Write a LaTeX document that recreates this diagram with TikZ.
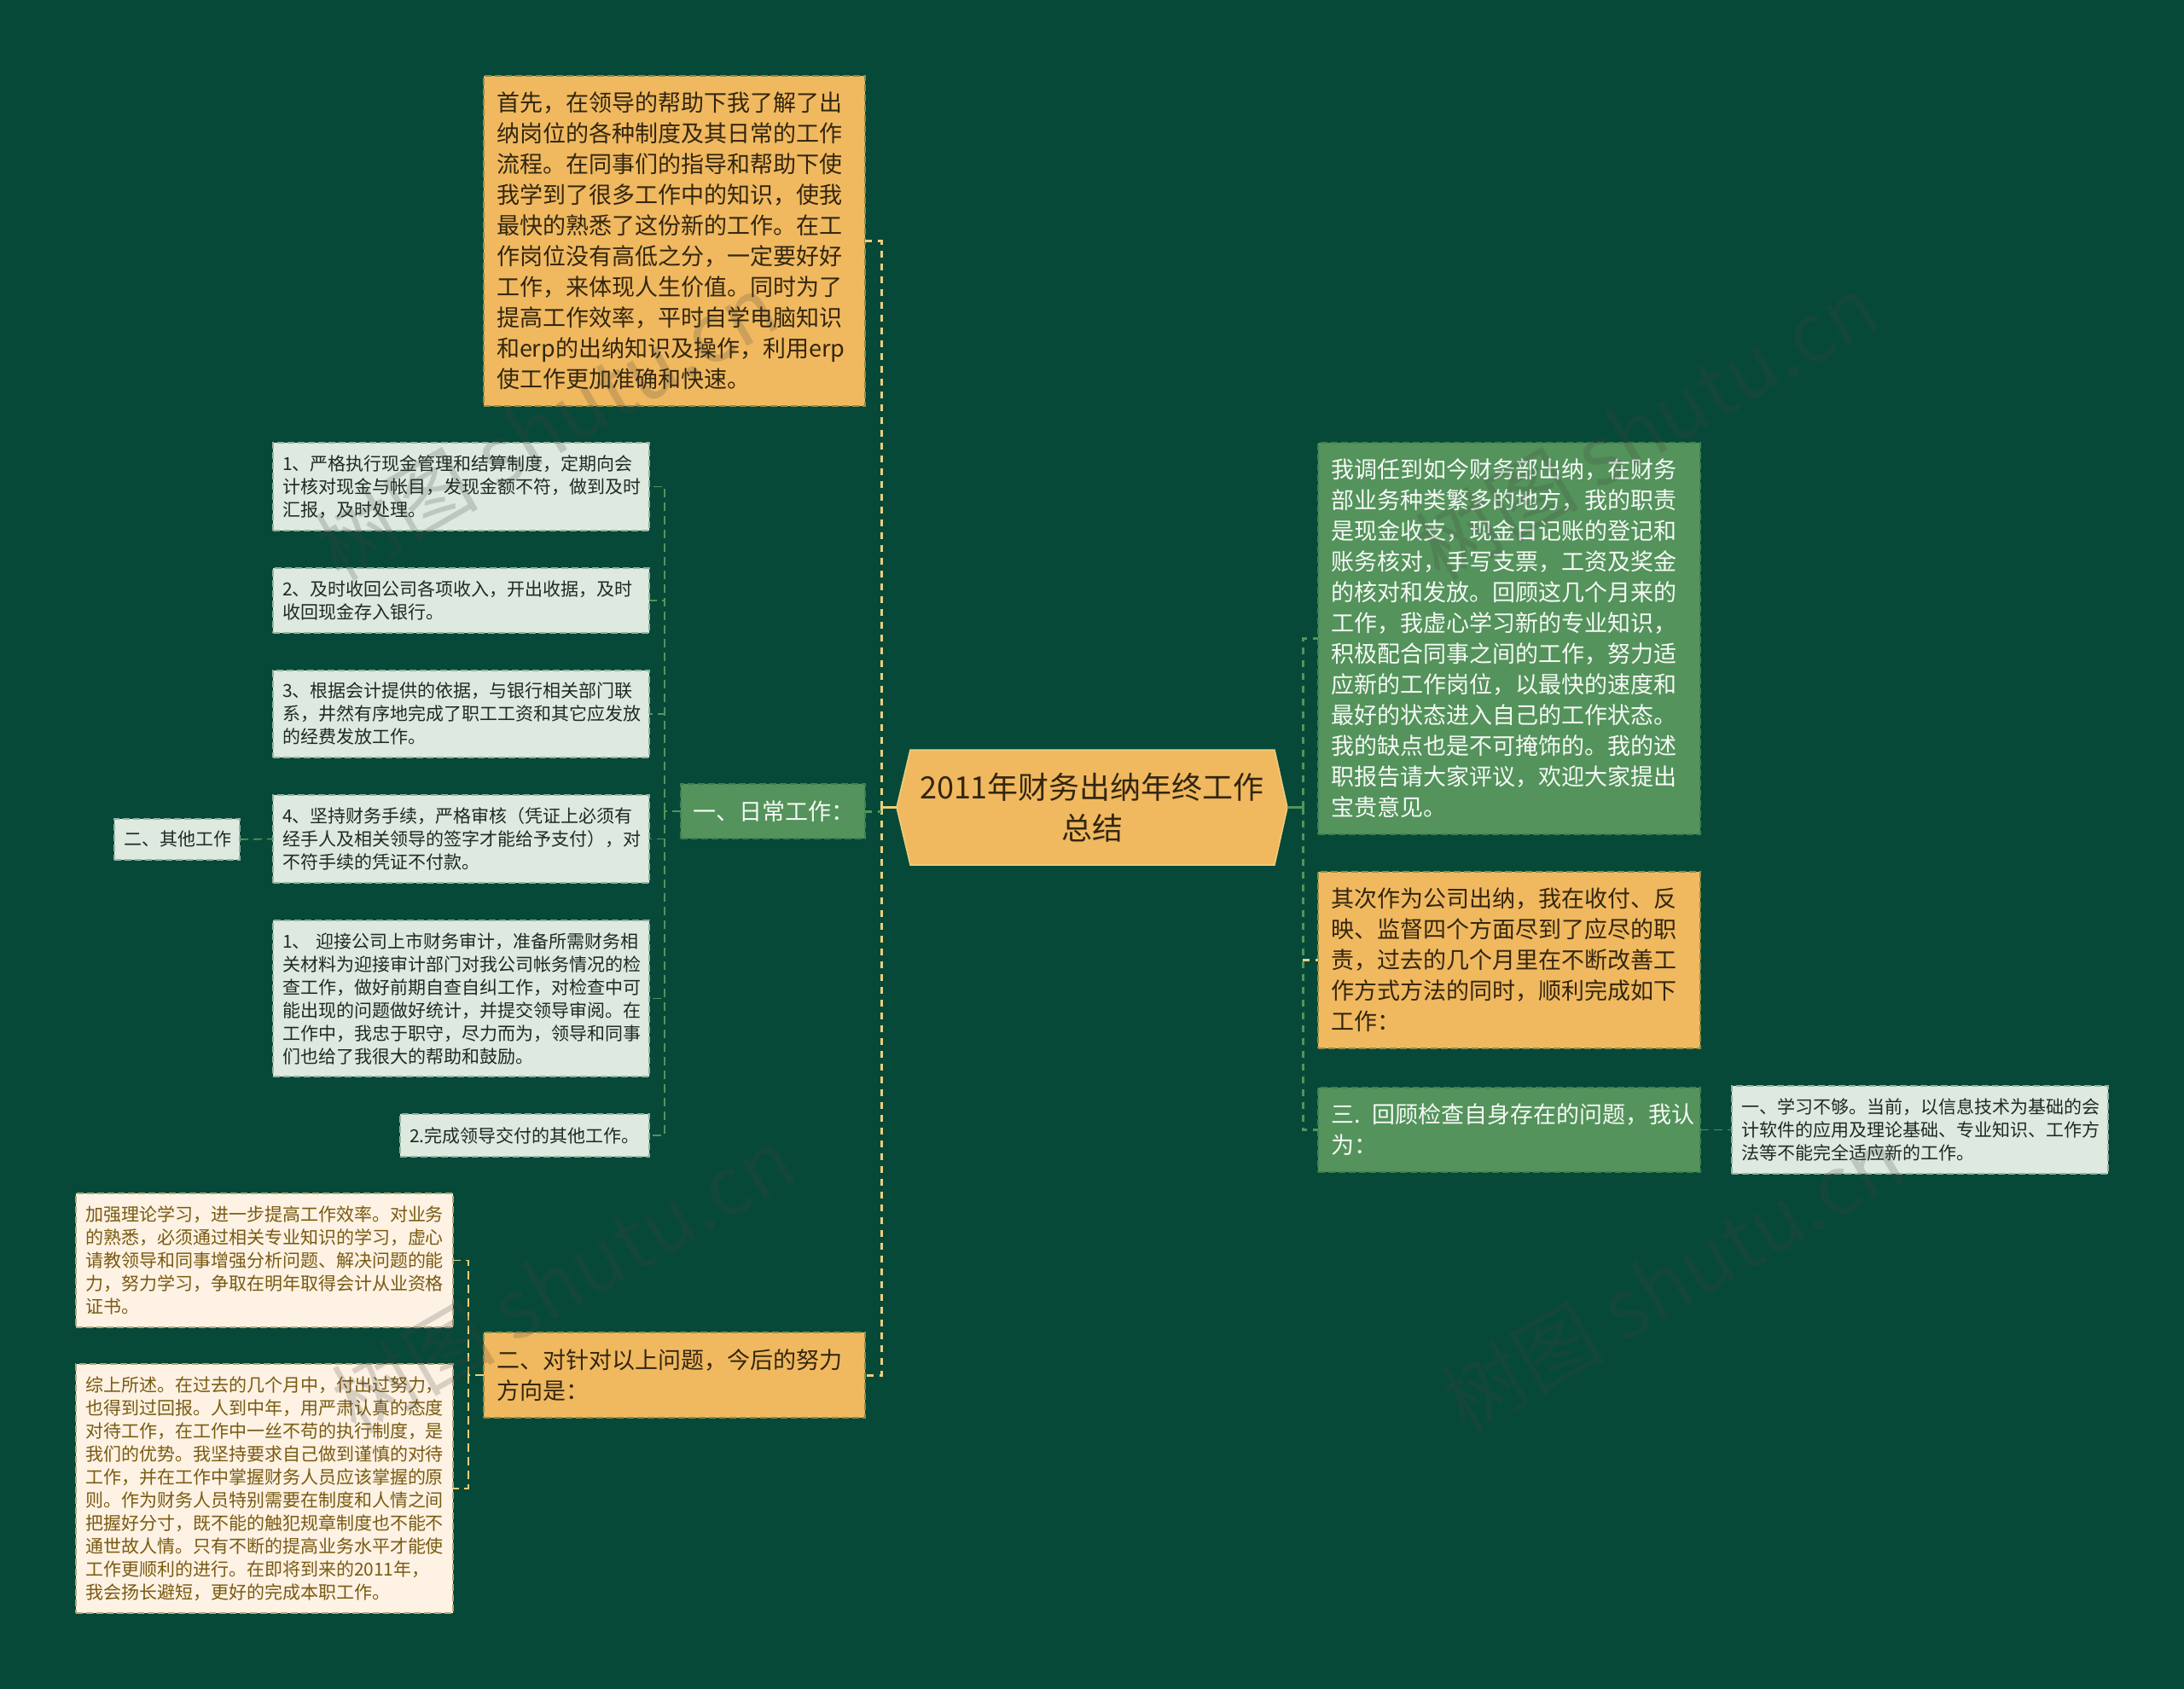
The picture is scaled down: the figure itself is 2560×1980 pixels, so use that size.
\documentclass[tikz,border=0pt]{standalone}
\usepackage{fontspec}
\setmainfont{Noto Sans CJK SC}
\newcommand{\zhcomma}{^^^^ff0c}
\newcommand{\zhcolon}{^^^^ff1a}
\newcommand{\zhopen}{^^^^ff08}
\newcommand{\zhclose}{^^^^ff09}
\definecolor{pagegreen}{HTML}{074938}
\definecolor{goldfill}{HTML}{F0B960}
\definecolor{goldedge}{HTML}{8F8B48}
\definecolor{goldline}{HTML}{EBCF7E}
\definecolor{goldtext}{HTML}{33260F}
\definecolor{leaffill}{HTML}{54935B}
\definecolor{leafedge}{HTML}{3F7F55}
\definecolor{palefill}{HTML}{DEE9DF}
\definecolor{paleedge}{HTML}{94B3A0}
\definecolor{paletext}{HTML}{1E2B22}
\definecolor{creamfill}{HTML}{FDF2E3}
\definecolor{creamedge}{HTML}{B5A678}
\definecolor{creamtext}{HTML}{7A5A12}
\tikzset{
  box/.style={anchor=north west,outer sep=0pt,align=left,line width=2pt,dash pattern=on 8pt off 4pt},
  bigtext/.style={font=\fontsize{27}{36}\selectfont,inner xsep=15pt,inner ysep=0pt},
  smalltext/.style={font=\fontsize{21}{27}\selectfont,inner xsep=11pt,inner ysep=0pt},
  goldbox/.style={box,bigtext,fill=goldfill,draw=goldedge,text=goldtext},
  leafbox/.style={box,bigtext,fill=leaffill,draw=leafedge,text=white!95!leaffill},
  palebox/.style={box,smalltext,fill=palefill,draw=paleedge,text=paletext},
  creambox/.style={box,smalltext,fill=creamfill,draw=creamedge,text=creamtext},
  thickgold/.style={draw=goldline,line width=3pt,dash pattern=on 8pt off 7pt},
  thickleaf/.style={draw=leaffill,line width=3pt,dash pattern=on 8pt off 7pt},
  thinleaf/.style={draw=leaffill,line width=1.6pt,dash pattern=on 10pt off 6pt},
  thingold/.style={draw=goldline,line width=1.6pt,dash pattern=on 10pt off 6pt},
  stamp/.style={rotate=30,font=\fontsize{96}{96}\selectfont,text=black!75,opacity=.2},
}

\begin{document}
\begin{tikzpicture}[x=1pt,y=-1pt]
    \fill[pagegreen] (0,0) rectangle (2560,1980);
    \useasboundingbox (0,0) rectangle (2560,1980);
    \coordinate (trunkL) at (1033,0);
    \coordinate (trunkR) at (1527,0);
    \coordinate (trunkP) at (779,0);
    \coordinate (trunkC) at (549,0);
    % centre
    \filldraw[fill=goldfill,draw=goldline,line width=1.5pt] (1051,946.5) -- (1067,879) -- (1494,879)
      -- (1509,946.5) -- (1494,1014) -- (1067,1014) -- cycle;
    \node[minimum width=458pt,minimum height=135pt,inner sep=0pt,outer sep=0pt,align=center,
      text=goldtext,font=\fontsize{36}{48}\selectfont] (title) at (1280,946.5) {2011年财务出纳年终工作\\总结};
    % left side
    \node[goldbox,text width=417pt,minimum height=387pt] (intro) at (567,89) {首先\zhcomma{}在领导的帮助下我了解了出\\纳岗位的各种制度及其日常的工作\\流程。在同事们的指导和帮助下使\\我学到了很多工作中的知识\zhcomma{}使我\\最快的熟悉了这份新的工作。在工\\作岗位没有高低之分\zhcomma{}一定要好好\\工作\zhcomma{}来体现人生价值。同时为了\\提高工作效率\zhcomma{}平时自学电脑知识\\和erp的出纳知识及操作\zhcomma{}利用erp\\使工作更加准确和快速。};
    \node[leafbox,inner xsep=14pt,text width=188pt,minimum height=64pt] (daily) at (798,919) {一、日常工作\zhcolon};
    \node[goldbox,text width=417pt,minimum height=100pt] (plan) at (567,1562) {二、对针对以上问题\zhcomma{}今后的努力\\方向是\zhcolon};
    \node[palebox,text width=419pt,minimum height=103pt] (duty1) at (320,519) {1、严格执行现金管理和结算制度\zhcomma{}定期向会\\计核对现金与帐目\zhcomma{}发现金额不符\zhcomma{}做到及时\\汇报\zhcomma{}及时处理。};
    \node[palebox,text width=419pt,minimum height=76pt] (duty2) at (320,666) {2、及时收回公司各项收入\zhcomma{}开出收据\zhcomma{}及时\\收回现金存入银行。};
    \node[palebox,text width=419pt,minimum height=102pt] (duty3) at (320,786) {3、根据会计提供的依据\zhcomma{}与银行相关部门联\\系\zhcomma{}井然有序地完成了职工工资和其它应发放\\的经费发放工作。};
    \node[palebox,text width=419pt,minimum height=103pt] (duty4) at (320,932) {4、坚持财务手续\zhcomma{}严格审核\zhopen{}凭证上必须有\\经手人及相关领导的签字才能给予支付\zhclose{}\zhcomma{}对\\不符手续的凭证不付款。};
    \node[palebox,text width=419pt,minimum height=183pt] (audit) at (320,1079) {1、~迎接公司上市财务审计\zhcomma{}准备所需财务相\\关材料为迎接审计部门对我公司帐务情况的检\\查工作\zhcomma{}做好前期自查自纠工作\zhcomma{}对检查中可\\能出现的问题做好统计\zhcomma{}并提交领导审阅。在\\工作中\zhcomma{}我忠于职守\zhcomma{}尽力而为\zhcomma{}领导和同事\\们也给了我很大的帮助和鼓励。};
    \node[palebox,text width=270pt,minimum height=50pt] (extra) at (469,1306) {2.完成领导交付的其他工作。};
    \node[palebox,text width=125pt,minimum height=48pt] (other) at (134,960) {二、其他工作};
    \node[creambox,text width=420pt,minimum height=157pt] (study) at (89,1399) {加强理论学习\zhcomma{}进一步提高工作效率。对业务\\的熟悉\zhcomma{}必须通过相关专业知识的学习\zhcomma{}虚心\\请教领导和同事增强分析问题、解决问题的能\\力\zhcomma{}努力学习\zhcomma{}争取在明年取得会计从业资格\\证书。};
    \node[creambox,text width=420pt,minimum height=292pt] (summary) at (89,1599) {综上所述。在过去的几个月中\zhcomma{}付出过努力\zhcomma\\也得到过回报。人到中年\zhcomma{}用严肃认真的态度\\对待工作\zhcomma{}在工作中一丝不苟的执行制度\zhcomma{}是\\我们的优势。我坚持要求自己做到谨慎的对待\\工作\zhcomma{}并在工作中掌握财务人员应该掌握的原\\则。作为财务人员特别需要在制度和人情之间\\把握好分寸\zhcomma{}既不能的触犯规章制度也不能不\\通世故人情。只有不断的提高业务水平才能使\\工作更顺利的进行。在即将到来的2011年\zhcomma\\我会扬长避短\zhcomma{}更好的完成本职工作。};
    % right side
    \node[leafbox,text width=418pt,minimum height=459pt] (post) at (1545,519) {我调任到如今财务部出纳\zhcomma{}在财务\\部业务种类繁多的地方\zhcomma{}我的职责\\是现金收支\zhcomma{}现金日记账的登记和\\账务核对\zhcomma{}手写支票\zhcomma{}工资及奖金\\的核对和发放。回顾这几个月来的\\工作\zhcomma{}我虚心学习新的专业知识\zhcomma\\积极配合同事之间的工作\zhcomma{}努力适\\应新的工作岗位\zhcomma{}以最快的速度和\\最好的状态进入自己的工作状态。\\我的缺点也是不可掩饰的。我的述\\职报告请大家评议\zhcomma{}欢迎大家提出\\宝贵意见。};
    \node[goldbox,text width=418pt,minimum height=207pt] (cashier) at (1545,1022) {其次作为公司出纳\zhcomma{}我在收付、反\\映、监督四个方面尽到了应尽的职\\责\zhcomma{}过去的几个月里在不断改善工\\作方式方法的同时\zhcomma{}顺利完成如下\\工作\zhcolon};
    \node[leafbox,text width=418pt,minimum height=99pt] (review) at (1545,1275) {三. 回顾检查自身存在的问题\zhcomma{}我认\\为\zhcolon};
    \node[palebox,text width=419pt,minimum height=103pt] (lack) at (2030,1273) {一、学习不够。当前\zhcomma{}以信息技术为基础的会\\计软件的应用及理论基础、专业知识、工作方\\法等不能完全适应新的工作。};
    % connectors
    \draw[goldline,line width=3.5pt] (title.west) -- (trunkL |- title.west);
    \draw[leaffill,line width=3.5pt] (title.east) -- (trunkR |- title.east);
    \draw[thickgold] (trunkL |- title.west) |- (intro.east);
    \draw[thickgold] (trunkL |- title.west) |- (plan.east);
    \draw[thickleaf] (daily.east) -- (trunkL |- daily.east);
    \draw[thickleaf] (trunkR |- title.east) |- (post.west);
    \draw[thickleaf] (trunkR |- title.east) |- (review.west);
    \draw[thickgold] (trunkR |- cashier.west) -- (cashier.west);
    \draw[thinleaf] (daily.west) -- (trunkP |- daily.west);
    \draw[thinleaf] (trunkP |- daily.west) |- (duty1.east);
    \draw[thinleaf] (trunkP |- daily.west) |- (duty2.east);
    \draw[thinleaf] (trunkP |- daily.west) |- (duty3.east);
    \draw[thinleaf] (trunkP |- daily.west) |- (duty4.east);
    \draw[thinleaf] (trunkP |- daily.west) |- (audit.east);
    \draw[thinleaf] (trunkP |- daily.west) |- (extra.east);
    \draw[thinleaf] (other.east) -- (duty4.west);
    \draw[thinleaf] (review.east) -- (lack.west);
    \draw[thingold] (plan.west) -- (trunkC |- plan.west);
    \draw[thingold] (trunkC |- plan.west) |- (study.east);
    \draw[thingold] (trunkC |- plan.west) |- (summary.east);
    % stamps over everything
    \node[stamp] (stamp1) at (640,500) {树图 shutu.cn};
    \node[stamp] (stamp2) at (1930,500) {树图 shutu.cn};
    \node[stamp] (stamp3) at (660,1500) {树图 shutu.cn};
    \node[stamp] (stamp4) at (1960,1500) {树图 shutu.cn};
\end{tikzpicture}
\end{document}
